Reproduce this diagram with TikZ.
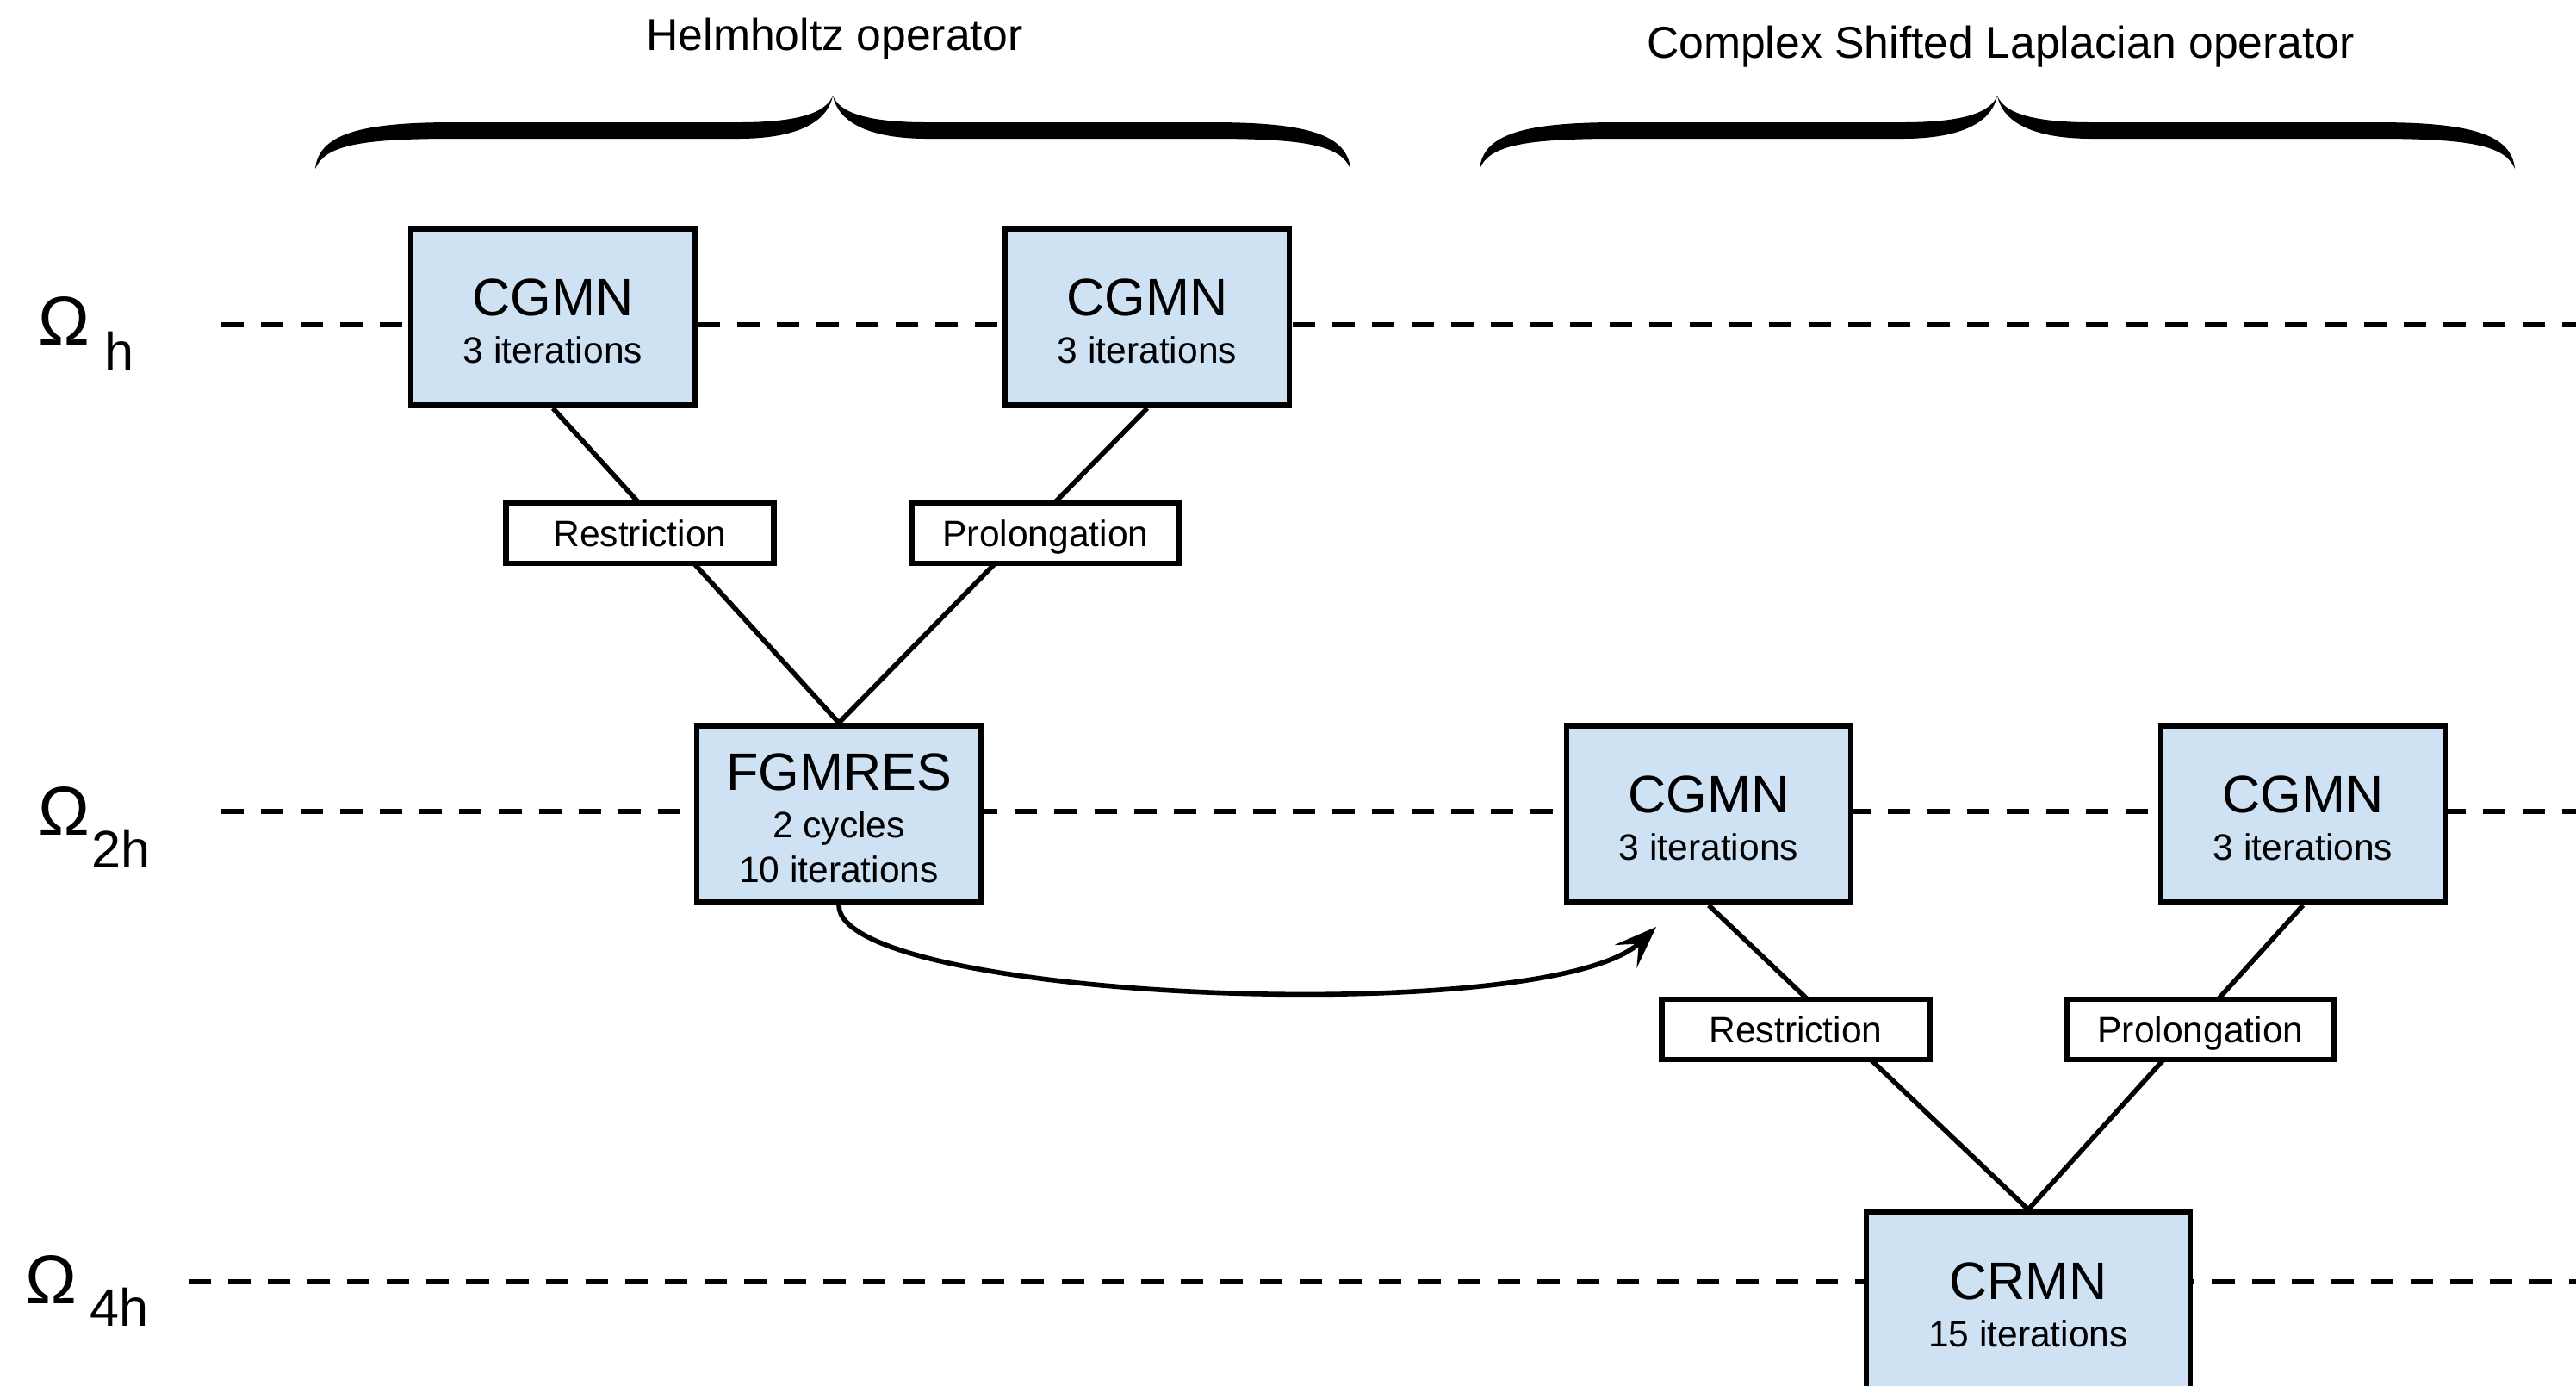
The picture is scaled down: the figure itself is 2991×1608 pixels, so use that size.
\documentclass[tikz,border=0pt]{standalone}
\usepackage{fontspec}
\setmainfont{Liberation Sans}
\usetikzlibrary{arrows.meta}

\definecolor{boxblue}{HTML}{CFE2F3}

\tikzset{
    solver/.style={draw, line width=1.9pt, fill=boxblue, minimum width=3.3cm, minimum height=2.05cm,
        align=center, inner sep=0pt, font=\fontsize{12.1}{14.8}\selectfont},
    transfer/.style={draw, line width=1.9pt, fill=white, minimum width=3.11cm, minimum height=0.7cm,
        inner sep=0pt, text depth=0pt, font=\fontsize{12.1}{14.8}\selectfont},
    level/.style={line width=1.9pt, dash pattern=on 7.4pt off 5.7pt},
    link/.style={line width=1.6pt},
    omega/.style={inner sep=0pt, font=\fontsize{22.8}{24}\selectfont},
    omegasub/.style={inner sep=0pt, font=\fontsize{17.4}{20}\selectfont},
    operator/.style={inner sep=0pt, font=\fontsize{14.7}{17}\selectfont},
    opbrace/.pic={
        \foreach \s in {1,-1}
            \fill[xscale=\s] (-601,85) .. controls (-597,45) and (-550,31) .. (-440,31) -- (-110,31)
                .. controls (-40,31) and (-8,20) .. (0,0) .. controls (-6,30) and (-40,50) .. (-110,50)
                -- (-440,50) .. controls (-550,50) and (-590,58) .. (-601,85) -- cycle;
    }
}
\newcommand{\solvername}[1]{{\fontsize{17.4}{15}\selectfont\rule{0pt}{14.8pt}#1}\\[0.8pt]}

\begin{document}
\begin{tikzpicture}[x=0.01cm, y=-0.01cm]
    % variables
    \pgfmathsetmacro{\vLevelH}{377}
    \pgfmathsetmacro{\vLevelTwo}{942}
    \pgfmathsetmacro{\vLevelFour}{1488}

    \useasboundingbox (0,0) rectangle (2991,1608);

    % grid levels
    \draw[level] (257,\vLevelH) -- (2991,\vLevelH);
    \draw[level] (257,\vLevelTwo) -- (2991,\vLevelTwo);
    \draw[level] (219,\vLevelFour) -- (2991,\vLevelFour);

    \node[omega, anchor=base west] (omh) at (44,400) {Ω};
    \node[omegasub, anchor=base west] (omhsub) at (121,429) {h};
    \node[omega, anchor=base west] (omtwo) at (44,969) {Ω};
    \node[omegasub, anchor=base west] (omtwosub) at (106,1007) {2h};
    \node[omega, anchor=base west] (omfour) at (29,1513) {Ω};
    \node[omegasub, anchor=base west] (omfoursub) at (104,1539) {4h};

    % operators
    \pic at (967,111) {opbrace};
    \pic at (2319,111) {opbrace};
    \node[operator, anchor=base] (helm) at (969,58) {Helmholtz operator};
    \node[operator, anchor=base] (csl) at (2323,67) {Complex Shifted Laplacian operator};

    % solvers
    \node[solver] (hpre) at (642,368) {\solvername{CGMN}3 iterations};
    \node[solver] (hpost) at (1332,368) {\solvername{CGMN}3 iterations};
    \node[solver] (fgmres) at (974,945) {\solvername{FGMRES}2 cycles\\10 iterations};
    \node[solver] (cslpre) at (1984,945) {\solvername{CGMN}3 iterations};
    \node[solver] (cslpost) at (2674,945) {\solvername{CGMN}3 iterations};
    \node[solver, minimum width=3.76cm] (crmn) at (2355,1510) {\solvername{CRMN}15 iterations};

    \draw[link] (hpre.south) -- (fgmres.north);
    \draw[link] (hpost.south) -- (fgmres.north);
    \draw[link] (cslpre.south) -- (crmn.north);
    \draw[link] (cslpost.south) -- (crmn.north);

    \node[transfer] (hrestr) at (743,619) {Restriction};
    \node[transfer] (hprol) at (1214,619) {Prolongation};
    \node[transfer] (cslrestr) at (2085,1195) {Restriction};
    \node[transfer] (cslprol) at (2555,1195) {Prolongation};

    \coordinate (handover) at (1923,1076);
    \draw[link, -{Stealth[length=14pt, width=10.5pt, inset=6pt]}] (fgmres.south)
        .. controls +(0,111) and +(-123,119) .. (handover);
\end{tikzpicture}
\end{document}
